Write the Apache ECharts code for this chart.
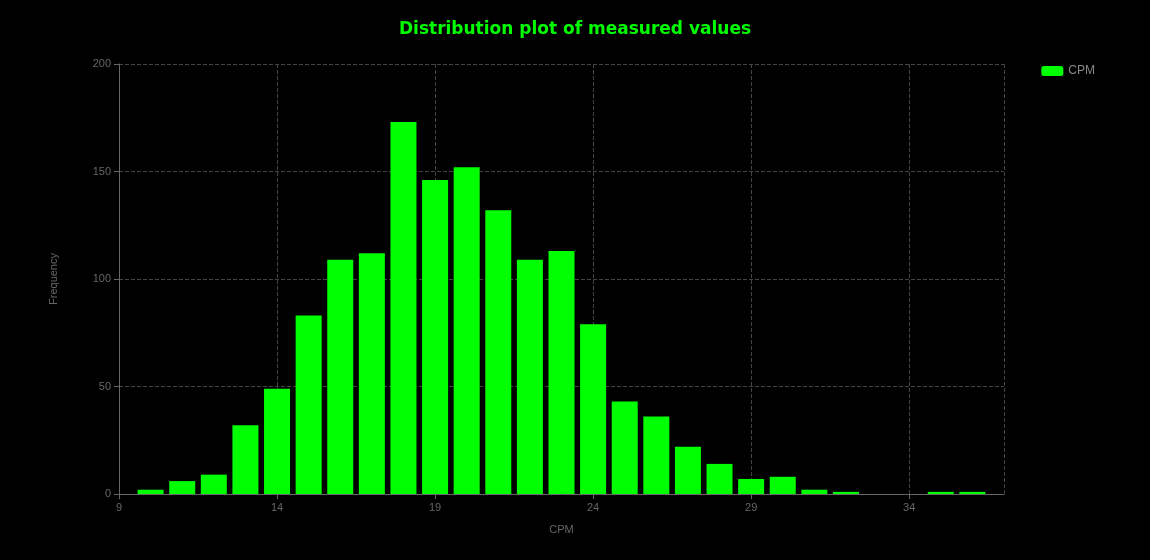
<!DOCTYPE html>
<html><head><meta charset="utf-8">
<script src="https://cdn.jsdelivr.net/npm/echarts@6/dist/echarts.min.js"></script>
<style>html,body{margin:0;background:#000}#c{width:1150px;height:560px}</style>
</head><body><div id="c"></div>
<script>
const bins = [10,11,12,13,14,15,16,17,18,19,20,21,22,23,24,25,26,27,28,29,30,31,32,33,34,35,36];
const freq = [2,6,9,32,49,83,109,112,173,146,152,132,109,113,79,43,36,22,14,7,8,2,1,0,0,1,1];
const xTicks = [9,14,19,24,29,34];
const chart = echarts.init(document.getElementById('c'));
const axisC = '#666';
chart.setOption({
  backgroundColor:'#000',
  title:{text:'Distribution plot of measured values',left:'center',top:16,textStyle:{color:'#00ff00',fontSize:17,fontWeight:'bold',fontFamily:'DejaVu Sans'}},
  legend:{data:['CPM'],right:50,top:60,itemWidth:22,itemHeight:10,textStyle:{color:'#888',fontSize:12}},
  grid:{left:119,right:146,top:64,bottom:66},
  xAxis:{type:'value',min:9,max:37,interval:5,name:'CPM',nameLocation:'middle',nameGap:30,nameTextStyle:{color:axisC,fontSize:11},
    axisLine:{lineStyle:{color:axisC}},axisTick:{lineStyle:{color:axisC}},
    axisLabel:{color:axisC,fontSize:11,showMaxLabel:false,formatter:v=>xTicks.includes(v)?String(v):''},
    splitLine:{show:true,lineStyle:{color:'#444',type:'dashed'}}},
  yAxis:{type:'value',min:0,max:200,interval:50,name:'Frequency',nameLocation:'middle',nameGap:60,nameTextStyle:{color:axisC,fontSize:11},
    axisLine:{show:true,lineStyle:{color:axisC}},axisTick:{show:true,lineStyle:{color:axisC}},
    axisLabel:{color:axisC,fontSize:11},splitLine:{lineStyle:{color:'#444',type:'dashed'}}},
  series:[{name:'CPM',type:'bar',barWidth:26,itemStyle:{color:'#00ff00'},data:bins.map((b,i)=>[b,freq[i]])}]
});
</script></body></html>
